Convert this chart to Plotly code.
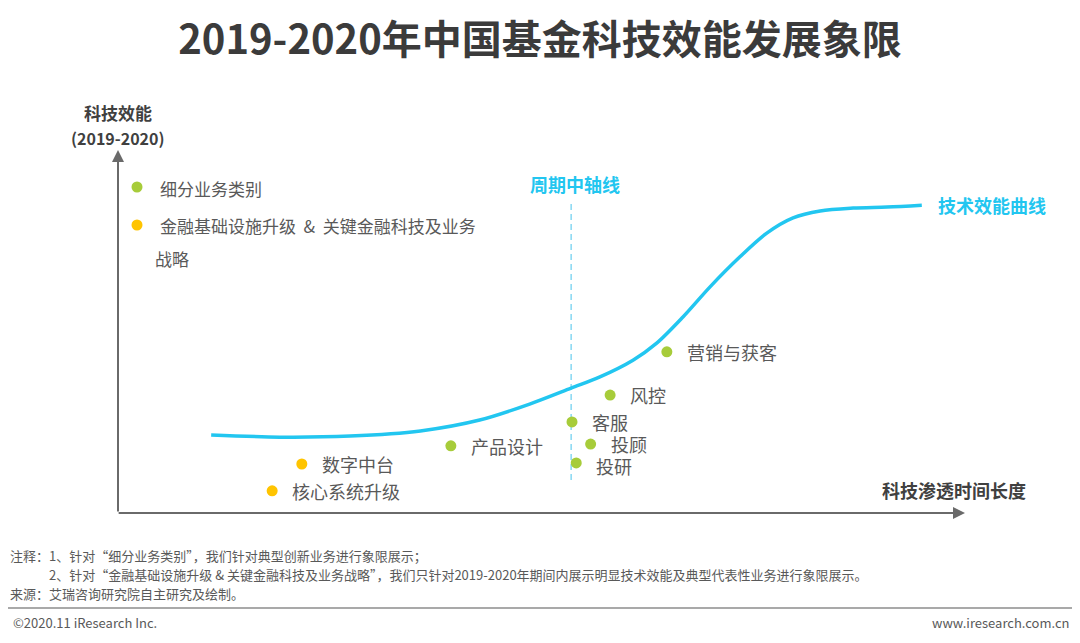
import plotly.graph_objects as go

# ---- data (x: 科技渗透时间长度, y: 科技效能, both on a 0-100 scale) ----
curve_x = [11.0, 19.1, 27.4, 35.7, 42.7, 48.6, 53.5, 56.9, 60.8, 63.6,
           66.7, 69.9, 73.4, 76.6, 79.7, 82.9, 86.8, 90.8, 94.9]
curve_y = [21.5, 20.9, 21.2, 22.6, 25.6, 30.0, 34.4, 37.5, 42.1, 46.8,
           54.0, 62.3, 70.5, 77.1, 81.3, 83.2, 84.0, 84.3, 84.8]

green_names = ["产品设计", "客服", "投顾", "投研", "风控", "营销与获客"]
green_x = [39.3, 53.6, 55.8, 54.1, 58.1, 64.8]
green_y = [18.5, 25.1, 19.0, 13.8, 32.5, 44.4]

yellow_names = ["数字中台", "核心系统升级"]
yellow_x = [21.7, 18.2]
yellow_y = [13.5, 6.1]

mid_x = 53.5
mid_y = [9.1, 86.2]

legend_names = ["细分业务类别", "金融基础设施升级  &  关键金融科技及业务", "战略"]

notes = [
    "注释：1、针对“细分业务类别”，我们针对典型创新业务进行象限展示；",
    "2、针对“金融基础设施升级 & 关键金融科技及业务战略”，我们只针对2019-2020年期间内展示明显技术效能及典型代表性业务进行象限展示。",
    "来源：艾瑞咨询研究院自主研究及绘制。",
]

# ---- layout constants ----
W, H = 1080, 643
X0, X1 = 118, 965      # axis origin / x arrow tip (px)
Y0, Y1 = 513, 150      # axis origin / y arrow tip (px)
sx = (X1 - X0) / 100
sy = (Y0 - Y1) / 100

FONT = "Noto Sans CJK SC, Microsoft YaHei, sans-serif"
BLUE = "#22C6F0"
GREEN = "#A7CC3A"
YELLOW = "#FFC400"
GRAY = "#595959"
AXIS = "#6A6A6A"

# small vertical nudge so the stacked labels (投顾 / 投研) don't collide
label_nudge = {"投研": -3}


def px(x):
    return x / W


def py(y):
    return 1 - y / H


fig = go.Figure()

# dashed mid line
fig.add_trace(go.Scatter(
    x=[mid_x, mid_x], y=mid_y, mode="lines",
    line=dict(color="#86D8F2", width=1.5, dash="6px,4px"),
    hoverinfo="skip", showlegend=False,
))

# efficiency curve
fig.add_trace(go.Scatter(
    x=curve_x, y=curve_y, mode="lines",
    line=dict(color=BLUE, width=3.5, shape="spline", smoothing=0.9),
    hoverinfo="skip", showlegend=False,
))

fig.add_trace(go.Scatter(
    x=green_x, y=green_y, mode="markers", text=green_names,
    marker=dict(color=GREEN, size=11), cliponaxis=False,
    hoverinfo="text", showlegend=False,
))
fig.add_trace(go.Scatter(
    x=yellow_x, y=yellow_y, mode="markers", text=yellow_names,
    marker=dict(color=YELLOW, size=11), cliponaxis=False,
    hoverinfo="text", showlegend=False,
))

# legend dots
fig.add_trace(go.Scatter(
    x=[(137 - X0) / sx] * 2, y=[(Y0 - 187) / sy, (Y0 - 225) / sy],
    mode="markers", marker=dict(color=[GREEN, YELLOW], size=11),
    hoverinfo="skip", showlegend=False,
))

ann = []

# point labels
for n, x, y in zip(green_names + yellow_names, green_x + yellow_x, green_y + yellow_y):
    ann.append(dict(x=x, y=y, xref="x", yref="y", text=n, showarrow=False,
                    xanchor="left", yanchor="middle", xshift=19,
                    yshift=label_nudge.get(n, 0), borderpad=0,
                    font=dict(size=18, color=GRAY)))

# axes arrows
ann.append(dict(x=0, y=100, ax=0, ay=0, xref="x", yref="y", axref="x", ayref="y",
                text="", showarrow=True, arrowhead=2, arrowsize=1.2, arrowwidth=2,
                arrowcolor=AXIS, standoff=0, startstandoff=0))
ann.append(dict(x=100, y=0, ax=-0.1, ay=0, xref="x", yref="y", axref="x", ayref="y",
                text="", showarrow=True, arrowhead=2, arrowsize=1.2, arrowwidth=2,
                arrowcolor=AXIS, standoff=0, startstandoff=0))

# axis titles
ann.append(dict(x=px(118), y=py(113), xref="paper", yref="paper", text="<b>科技效能</b>",
                showarrow=False, xanchor="center", yanchor="middle",
                font=dict(size=17, color="#404040")))
ann.append(dict(x=px(118), y=py(138), xref="paper", yref="paper", text="<b>(2019-2020)</b>",
                showarrow=False, xanchor="center", yanchor="middle",
                font=dict(size=16, color="#404040")))
ann.append(dict(x=px(1028), y=py(490), xref="paper", yref="paper", text="<b>科技渗透时间长度</b>",
                showarrow=False, xanchor="right", yanchor="middle",
                font=dict(size=18, color="#404040")))

# blue labels
ann.append(dict(x=px(575), y=py(184), xref="paper", yref="paper", text="<b>周期中轴线</b>",
                showarrow=False, xanchor="center", yanchor="middle",
                font=dict(size=18, color=BLUE)))
ann.append(dict(x=px(936), y=py(205), xref="paper", yref="paper", text="<b>技术效能曲线</b>",
                showarrow=False, xanchor="left", yanchor="middle",
                font=dict(size=18, color=BLUE)))

# legend texts
for t, x, y in zip(legend_names, [158, 158, 153], [188, 226, 259]):
    ann.append(dict(x=px(x), y=py(y), xref="paper", yref="paper", text=t,
                    showarrow=False, xanchor="left", yanchor="middle",
                    font=dict(size=17, color=GRAY)))

# notes
for t, x, y in zip(notes, [9, 48, 9], [555, 574, 593]):
    ann.append(dict(x=px(x), y=py(y), xref="paper", yref="paper", text=t,
                    showarrow=False, xanchor="left", yanchor="middle", borderpad=0,
                    font=dict(size=13, color=GRAY)))

ann.append(dict(x=px(11), y=py(622), xref="paper", yref="paper", text="©2020.11 iResearch Inc.",
                showarrow=False, xanchor="left", yanchor="middle",
                font=dict(size=13, color=GRAY)))
ann.append(dict(x=px(1072), y=py(622), xref="paper", yref="paper", text="www.iresearch.com.cn",
                showarrow=False, xanchor="right", yanchor="middle",
                font=dict(size=13, color=GRAY)))

fig.update_layout(
    width=W, height=H,
    margin=dict(l=0, r=0, t=0, b=0),
    paper_bgcolor="white", plot_bgcolor="white",
    font=dict(family=FONT),
    title=dict(text="<b>2019-2020年中国基金科技效能发展象限</b>",
               x=0.5, xanchor="center", y=py(40), yanchor="middle",
               font=dict(size=40, color="#3B3B3B")),
    xaxis=dict(range=[-X0 / sx, (W - X0) / sx], visible=False, fixedrange=True),
    yaxis=dict(range=[-(H - Y0) / sy, Y0 / sy], visible=False, fixedrange=True),
    annotations=ann,
    shapes=[dict(type="line", xref="paper", yref="paper",
                 x0=px(8), x1=px(1072), y0=py(608), y1=py(608),
                 line=dict(color="#8C8C8C", width=1.5))],
)

# page body has an 8px default margin; drop it so the figure sits at 0,0
fig.write_html("out.html", config={"displayModeBar": False},
               post_script="document.body.style.margin='0';")
